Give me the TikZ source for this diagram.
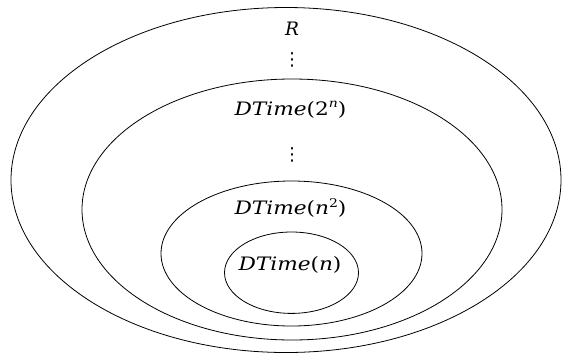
\documentclass[tikz,border=0pt]{standalone}
\usepackage{fontspec}
\usepackage{graphicx}
\newfontfamily\lblfont{DejaVu Serif}
\newfontfamily\dotfont{DejaVu Sans}
\newcommand{\lblsize}{\fontsize{18.5}{22}\selectfont}
\newcommand{\exps}[1]{\raisebox{0.42em}{\fontsize{12}{14}\selectfont\itshape #1}}
\newcommand{\widelabel}[1]{\scalebox{1.17}[1]{\lblfont\lblsize #1}}
\tikzset{
  ring/.style={draw=black, line width=0.8pt},
  lbl/.style={inner sep=0pt},
}
\begin{document}
\begin{tikzpicture}[x=1pt,y=-1pt]
\useasboundingbox (0,0) rectangle (562,354);
\draw[ring] (286,180) ellipse [x radius=275, y radius=172.5];
\draw[ring] (292,209.5) ellipse [x radius=210, y radius=130.5];
\draw[ring] (291.5,253.5) ellipse [x radius=130.5, y radius=72.5];
\draw[ring] (291.5,272.7) ellipse [x radius=67, y radius=40.7];
\node[lbl] (r) at (292,28.5) {\lblfont\lblsize\itshape R};
\node[lbl] (d1) at (292,60) {\dotfont\fontsize{18}{20}\selectfont ⋮};
\node[lbl] (t2n) at (290.5,110) {\widelabel{\itshape DTime\upshape(2\exps{n})}};
\node[lbl] (d2) at (292,155) {\dotfont\fontsize{18}{20}\selectfont ⋮};
\node[lbl] (tn2) at (290.5,208) {\widelabel{\itshape DTime\upshape(\itshape n\upshape\exps{\upshape 2})}};
\node[lbl] (tn) at (290,265) {\widelabel{\itshape DTime\upshape(\itshape n\upshape)}};
\end{tikzpicture}
\end{document}
